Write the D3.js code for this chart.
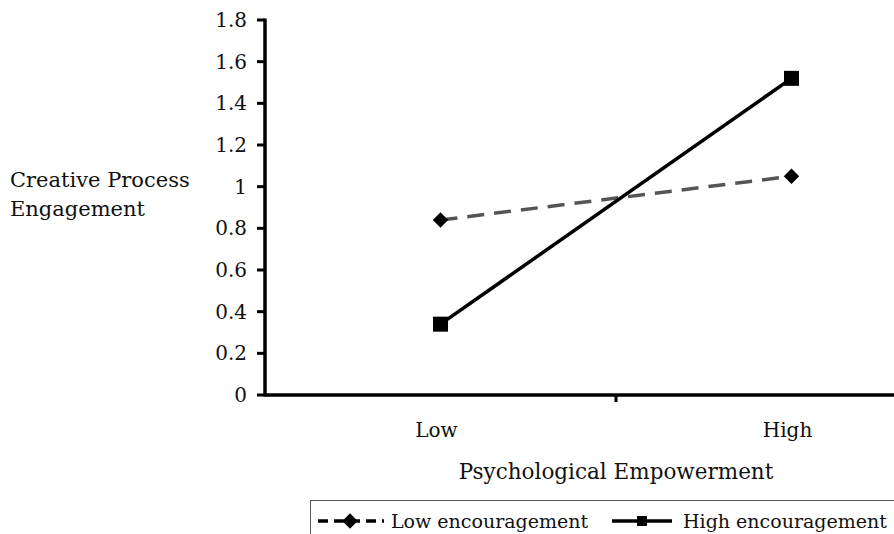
<!DOCTYPE html>
<html>
<head>
<meta charset="utf-8">
<script src="https://cdn.jsdelivr.net/npm/d3@7"></script>
<style>
  body { margin: 0; background: #fff; }
  svg text { font-family: "DejaVu Serif", serif; fill: #111; }
</style>
</head>
<body>
<div id="chart"></div>
<script>
const categories = ["Low", "High"];
const lowEncouragement = [0.84, 1.05];
const highEncouragement = [0.34, 1.52];
const yTicks = [0, 0.2, 0.4, 0.6, 0.8, 1, 1.2, 1.4, 1.6, 1.8];

const width = 894, height = 534;

const svg = d3.select("#chart").append("svg")
  .attr("width", width)
  .attr("height", height);

const x = d3.scalePoint()
  .domain(categories)
  .range([265, 967])
  .padding(0.5);

const y = d3.scaleLinear()
  .domain([0, 1.8])
  .range([395, 20]);

// y axis
svg.append("line")
  .attr("x1", 265).attr("x2", 265)
  .attr("y1", y(1.8) - 1.5).attr("y2", y(0) + 1.5)
  .attr("stroke", "#000").attr("stroke-width", 3.5);

svg.selectAll(".ytick")
  .data(yTicks)
  .enter().append("line")
  .attr("x1", 257).attr("x2", 265)
  .attr("y1", d => y(d)).attr("y2", d => y(d))
  .attr("stroke", "#000").attr("stroke-width", 3);

svg.selectAll(".ylab")
  .data(yTicks)
  .enter().append("text")
  .attr("x", 247)
  .attr("y", d => y(d) + 7)
  .attr("text-anchor", "end")
  .attr("font-size", 20)
  .text(d => d);

// x axis
svg.append("line")
  .attr("x1", 265).attr("x2", 967)
  .attr("y1", y(0)).attr("y2", y(0))
  .attr("stroke", "#000").attr("stroke-width", 3.5);

svg.append("line")
  .attr("x1", (x("Low") + x("High")) / 2).attr("x2", (x("Low") + x("High")) / 2)
  .attr("y1", y(0)).attr("y2", y(0) + 7)
  .attr("stroke", "#000").attr("stroke-width", 3);

svg.selectAll(".xlab")
  .data(categories)
  .enter().append("text")
  .attr("x", d => x(d) - 4)
  .attr("y", 437)
  .attr("text-anchor", "middle")
  .attr("font-size", 20)
  .text(d => d);

svg.append("text")
  .attr("x", 616)
  .attr("y", 479)
  .attr("text-anchor", "middle")
  .attr("font-size", 21.5)
  .text("Psychological Empowerment");

svg.append("text")
  .attr("x", 10)
  .attr("y", 187)
  .attr("font-size", 21)
  .text("Creative Process");
svg.append("text")
  .attr("x", 10)
  .attr("y", 216)
  .attr("font-size", 21)
  .text("Engagement");

// series
const line = d3.line()
  .x((d, i) => x(categories[i]))
  .y(d => y(d));

svg.append("path")
  .datum(lowEncouragement)
  .attr("d", line)
  .attr("fill", "none")
  .attr("stroke", "#555")
  .attr("stroke-width", 3.5)
  .attr("stroke-dasharray", "17,10");

svg.append("path")
  .datum(highEncouragement)
  .attr("d", line)
  .attr("fill", "none")
  .attr("stroke", "#000")
  .attr("stroke-width", 3.5);

const diamond = d3.symbol().type(d3.symbolDiamond2).size(150);
const square = d3.symbol().type(d3.symbolSquare).size(225);

svg.selectAll(".dmark")
  .data(lowEncouragement)
  .enter().append("path")
  .attr("d", diamond)
  .attr("transform", (d, i) => `translate(${x(categories[i])},${y(d)})`)
  .attr("fill", "#000");

svg.selectAll(".smark")
  .data(highEncouragement)
  .enter().append("path")
  .attr("d", square)
  .attr("transform", (d, i) => `translate(${x(categories[i])},${y(d)})`)
  .attr("fill", "#000");

// legend
svg.append("rect")
  .attr("x", 310.5).attr("y", 500.5)
  .attr("width", 700).attr("height", 100)
  .attr("fill", "none")
  .attr("stroke", "#555").attr("stroke-width", 1);

const lg = svg.append("g");
lg.append("line")
  .attr("x1", 318).attr("x2", 384).attr("y1", 521).attr("y2", 521)
  .attr("stroke", "#000").attr("stroke-width", 3.5)
  .attr("stroke-dasharray", "10,6");
lg.append("path").attr("d", diamond)
  .attr("transform", "translate(350,521)").attr("fill", "#000");
lg.append("text")
  .attr("x", 391).attr("y", 528)
  .attr("font-size", 19)
  .text("Low encouragement");

lg.append("line")
  .attr("x1", 612).attr("x2", 672).attr("y1", 521).attr("y2", 521)
  .attr("stroke", "#000").attr("stroke-width", 3.5);
lg.append("path").attr("d", d3.symbol().type(d3.symbolSquare).size(100))
  .attr("transform", "translate(642,521)").attr("fill", "#000");
lg.append("text")
  .attr("x", 683).attr("y", 528)
  .attr("font-size", 19)
  .text("High encouragement");
</script>
</body>
</html>
